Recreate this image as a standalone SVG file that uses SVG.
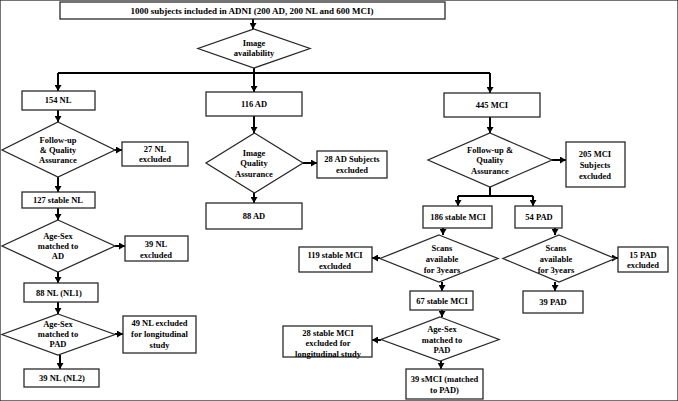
<svg xmlns="http://www.w3.org/2000/svg" width="678" height="401" viewBox="0 0 678 401">
<defs>
<marker id="ah" markerUnits="userSpaceOnUse" markerWidth="6" markerHeight="7" refX="6" refY="3.5" orient="auto">
<path d="M0,0 L6,3.5 L0,7 z" fill="#000"/>
</marker>
</defs>
<style>
rect, polygon { fill: #fff; stroke: #2a2a2a; stroke-width: 1.3; }
text { font-family: "Liberation Serif", "Times New Roman", serif; font-weight: bold; font-size: 8.5px; text-anchor: middle; fill: #000; }
#connectors path { fill: none; stroke: #000; stroke-width: 2; }
#connectors path.a { marker-end: url(#ah); }
</style>
<rect width="678" height="401" fill="#fff" stroke="none"/>

<g id="connectors">
<path class="a" d="M253,19 V29"/>
<path class="a" d="M254,68 V92"/>
<path d="M58,73 H490"/>
<path class="a" d="M58,73 V91"/>
<path class="a" d="M490,73 V93"/>
<path class="a" d="M58,110 V122"/>
<path class="a" d="M115,150 H122"/>
<path class="a" d="M58,177 V192"/>
<path class="a" d="M58,208 V220"/>
<path class="a" d="M115,246 H125"/>
<path class="a" d="M58,272 V283"/>
<path class="a" d="M58,302 V314"/>
<path class="a" d="M115,334 H123"/>
<path class="a" d="M60,355 V369"/>
<path class="a" d="M254,116 V133"/>
<path class="a" d="M303,163 H317"/>
<path class="a" d="M254,193 V203"/>
<path class="a" d="M490,117 V133"/>
<path class="a" d="M552,160 H566"/>
<path d="M490,187 V196"/>
<path d="M458,196 H533"/>
<path class="a" d="M458,196 V206"/>
<path class="a" d="M533,196 V206"/>
<path class="a" d="M443,228 V235"/>
<path class="a" d="M380,258 H372"/>
<path class="a" d="M442,282 V291"/>
<path class="a" d="M442,310 V317"/>
<path class="a" d="M381,340 H372"/>
<path class="a" d="M441,361 V369"/>
<path class="a" d="M555,228 V235"/>
<path class="a" d="M612,258 H618"/>
<path class="a" d="M555,282 V291"/>
</g>

<g id="n-top"><rect x="60" y="2" width="385" height="17"/><text x="252" y="13.5" style="font-size:9px">1000 subjects included in ADNI (200 AD, 200 NL and 600 MCI)</text></g>
<g id="n-image"><polygon points="254,29 310,48.5 254,68 198,48.5"/><text x="254" y="46">Image</text><text x="254" y="56">availability</text></g>

<g id="n-154nl"><rect x="22" y="91" width="73" height="19"/><text x="58" y="103">154 NL</text></g>
<g id="n-nlfq"><polygon points="58,122 115,150 58,177 2,150"/><text x="58" y="143">Follow-up</text><text x="58" y="153">&amp; Quality</text><text x="58" y="163">Assurance</text></g>
<g id="n-27nl"><rect x="122" y="142" width="66" height="24"/><text x="155" y="152">27 NL</text><text x="155" y="162">excluded</text></g>
<g id="n-127nl"><rect x="22" y="192" width="73" height="16"/><text x="58" y="203">127 stable NL</text></g>
<g id="n-nlas1"><polygon points="58,220 115,246 58,272 2,246"/><text x="58" y="239">Age-Sex</text><text x="58" y="249">matched to</text><text x="58" y="259">AD</text></g>
<g id="n-39nl"><rect x="125" y="236" width="63" height="25"/><text x="156" y="247">39 NL</text><text x="156" y="257.5">excluded</text></g>
<g id="n-88nl"><rect x="24" y="283" width="74" height="19"/><text x="59" y="296">88 NL (NL1)</text></g>
<g id="n-nlas2"><polygon points="58,314 115,334.5 58,355 2,334.5"/><text x="58" y="326.5">Age-Sex</text><text x="58" y="337">matched to</text><text x="58" y="347">PAD</text></g>
<g id="n-49nl"><rect x="123" y="316" width="73" height="37"/><text x="159.5" y="326">49 NL excluded</text><text x="159.5" y="337">for longitudinal</text><text x="159.5" y="348">study</text></g>
<g id="n-39nl2"><rect x="24" y="369" width="75" height="18"/><text x="62" y="381">39 NL (NL2)</text></g>

<g id="n-116ad"><rect x="206" y="92" width="96" height="24"/><text x="254" y="107">116 AD</text></g>
<g id="n-adiq"><polygon points="254.5,133 303,163 254.5,193 206,163"/><text x="254" y="155.5">Image</text><text x="254" y="166">Quality</text><text x="254" y="176.5">Assurance</text></g>
<g id="n-28ad"><rect x="317" y="151" width="70" height="27"/><text x="352" y="162">28 AD Subjects</text><text x="352" y="173">excluded</text></g>
<g id="n-88ad"><rect x="206" y="203" width="96" height="26"/><text x="254" y="219">88 AD</text></g>

<g id="n-445mci"><rect x="444" y="93" width="96" height="24"/><text x="492" y="108">445 MCI</text></g>
<g id="n-mcifq"><polygon points="490,133 552,160 490,187 428,160"/><text x="490" y="152.5">Follow-up &amp;</text><text x="490" y="163">Quality</text><text x="490" y="173.5">Assurance</text></g>
<g id="n-205mci"><rect x="566" y="142" width="59" height="45"/><text x="595" y="157">205 MCI</text><text x="595" y="168">Subjects</text><text x="595" y="179">excluded</text></g>
<g id="n-186mci"><rect x="423" y="206" width="69" height="22"/><text x="458" y="220">186 stable MCI</text></g>
<g id="n-54pad"><rect x="515" y="206" width="47" height="22"/><text x="539" y="220">54 PAD</text></g>
<g id="n-scansl"><polygon points="439,235 498,258.5 439,282 380,258.5"/><text x="442" y="251">Scans</text><text x="442" y="262">available</text><text x="442" y="273">for 3years</text></g>
<g id="n-119mci"><rect x="299" y="247" width="73" height="25"/><text x="335" y="258">119 stable MCI</text><text x="335" y="268.5">excluded</text></g>
<g id="n-scansr"><polygon points="559,235 615,258.5 559,282 503,258.5"/><text x="556" y="251">Scans</text><text x="556" y="262">available</text><text x="556" y="273">for 3years</text></g>
<g id="n-15pad"><rect x="618" y="247" width="50" height="25"/><text x="643" y="257.5">15 PAD</text><text x="643" y="268">excluded</text></g>
<g id="n-67mci"><rect x="410" y="291" width="63" height="19"/><text x="442" y="303.5">67 stable MCI</text></g>
<g id="n-39pad"><rect x="523" y="291" width="60" height="22"/><text x="553" y="305">39 PAD</text></g>
<g id="n-mcias"><polygon points="440,317 499,339.5 440,361 381,339.5"/><text x="442" y="332">Age-Sex</text><text x="442" y="342.5">matched to</text><text x="442" y="353">PAD</text></g>
<g id="n-28mci"><rect x="283" y="326" width="89" height="31"/><text x="328" y="335.5">28 stable MCI</text><text x="328" y="346">excluded for</text><text x="328" y="356.5">longitudinal study</text></g>
<g id="n-39smci"><rect x="406" y="369" width="77" height="30"/><text x="444.5" y="382">39 sMCI (matched</text><text x="444.5" y="393">to PAD)</text></g>
</svg>
